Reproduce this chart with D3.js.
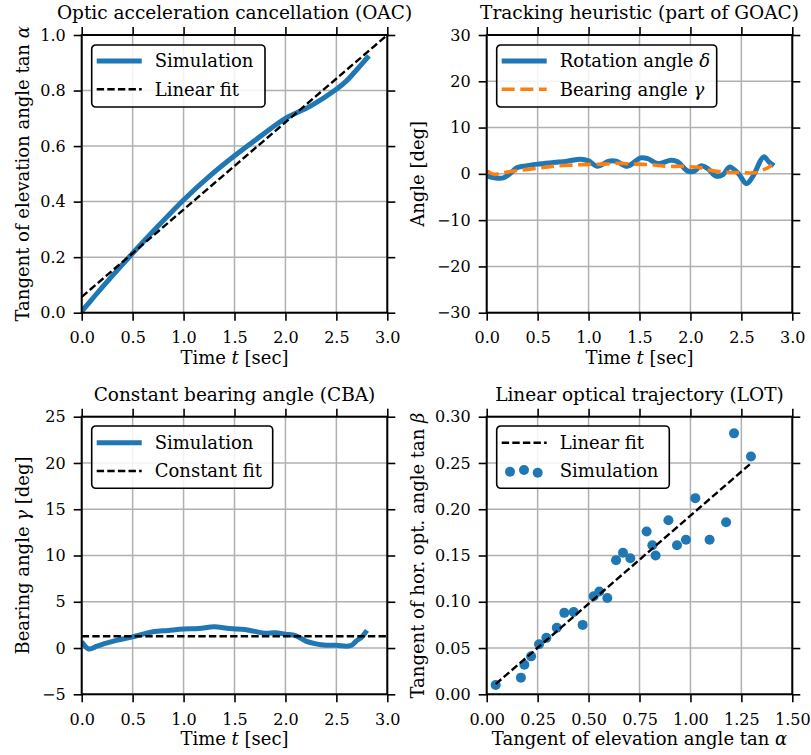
<!DOCTYPE html>
<html><head><meta charset="utf-8">
<script src="https://cdn.jsdelivr.net/npm/d3@7"></script>
<style>body{margin:0;background:#fff} text{font-family:"DejaVu Serif",serif;fill:#000}</style>
</head><body><svg id="c" width="811" height="755"></svg>
<script>
// ---------- data ----------
const timeTicks = [0, 0.5, 1.0, 1.5, 2.0, 2.5, 3.0];
const oacTicks = [0, 0.2, 0.4, 0.6, 0.8, 1.0];
const angleTicks = [-30, -20, -10, 0, 10, 20, 30];
const cbaTicks = [-5, 0, 5, 10, 15, 20, 25];
const lotXTicks = [0, 0.25, 0.5, 0.75, 1.0, 1.25, 1.5];
const lotYTicks = [0, 0.05, 0.10, 0.15, 0.20, 0.25, 0.30];

// OAC simulation (tan alpha vs time)
const oacT = [0, 0.1, 0.25, 0.5, 0.75, 1.0, 1.25, 1.5, 1.75, 2.0, 2.25, 2.5, 2.6, 2.7, 2.82];
const oacV = [0.005, 0.048, 0.112, 0.214, 0.312, 0.406, 0.49, 0.565, 0.634, 0.70, 0.745, 0.805, 0.835, 0.875, 0.925];
const oacFitT = [0, 3.0];
const oacFitV = [0.057, 1.0];

// Rotation angle delta (deg)
const deltaT = [0, 0.066, 0.164, 0.23, 0.296, 0.36, 0.5, 0.658, 0.79, 0.92, 1.0, 1.085, 1.2, 1.27, 1.38, 1.51, 1.58, 1.68, 1.81, 1.875, 1.97, 2.04, 2.1, 2.17, 2.25, 2.32, 2.385, 2.47, 2.55, 2.61, 2.72, 2.77, 2.82];
const deltaV = [-0.43, -0.8, -0.87, 0.07, 1.3, 1.65, 2.1, 2.45, 2.73, 3.17, 2.8, 1.65, 2.73, 2.73, 1.65, 3.45, 3.3, 2.23, 2.95, 2.6, 0.65, 0.58, 1.73, 1.15, -0.5, -0.14, 1.5, 0.07, -2.1, -0.65, 3.67, 2.6, 1.73];

// Bearing angle gamma (deg)
const gammaT = [0, 0.07, 0.15, 0.25, 0.35, 0.5, 0.6, 0.7, 0.85, 1.0, 1.15, 1.3, 1.45, 1.6, 1.7, 1.8, 1.9, 2.0, 2.1, 2.2, 2.3, 2.4, 2.5, 2.6, 2.65, 2.7, 2.75, 2.8];
const gammaV = [0.7, -0.1, 0.2, 0.55, 0.85, 1.2, 1.5, 1.75, 1.9, 2.05, 2.1, 2.3, 2.1, 2.0, 1.8, 1.6, 1.65, 1.5, 1.35, 0.75, 0.45, 0.3, 0.3, 0.2, 0.3, 0.8, 1.2, 1.9];
const gammaFit = 1.27;

// LOT scatter
const lotX = [0.044, 0.168, 0.185, 0.218, 0.257, 0.293, 0.344, 0.381, 0.427, 0.471, 0.525, 0.553, 0.592, 0.635, 0.669, 0.705, 0.785, 0.813, 0.829, 0.892, 0.934, 0.978, 1.024, 1.094, 1.175, 1.214, 1.297];
const lotY = [0.010, 0.018, 0.032, 0.041, 0.054, 0.061, 0.072, 0.088, 0.089, 0.075, 0.106, 0.111, 0.104, 0.145, 0.153, 0.147, 0.176, 0.161, 0.150, 0.188, 0.161, 0.167, 0.212, 0.167, 0.186, 0.282, 0.257];
const lotFitX = [0.044, 1.297];
const lotFitY = [0.011, 0.2496];

// ---------- drawing ----------
const BLUE = "#1f77b4", ORANGE = "#ff7f0e";
const FS = 18, TFS = 16;
const svg = d3.select("#c");
let clipId = 0;

function makePanel(o) {
  const w = o.x1 - o.x0, h = o.y1 - o.y0;
  const g = svg.append("g").attr("transform", `translate(${o.x0},${o.y0})`);
  const x = d3.scaleLinear().domain(o.xDomain).range([0, w]);
  const y = d3.scaleLinear().domain(o.yDomain).range([h, 0]);
  // grid
  g.append("g").selectAll("line").data(o.xTicks).join("line")
    .attr("x1", d => x(d)).attr("x2", d => x(d)).attr("y1", 0).attr("y2", h)
    .attr("stroke", "#b0b0b0").attr("stroke-width", 1.5);
  g.append("g").selectAll("line").data(o.yTicks).join("line")
    .attr("y1", d => y(d)).attr("y2", d => y(d)).attr("x1", 0).attr("x2", w)
    .attr("stroke", "#b0b0b0").attr("stroke-width", 1.5);
  const id = "clip" + (clipId++);
  g.append("clipPath").attr("id", id).append("rect").attr("width", w).attr("height", h);
  const plot = g.append("g").attr("clip-path", `url(#${id})`);
  // axes
  const fmtX = d3.format(o.xFmt), fmtY = d3.format(o.yFmt);
  const styleAxis = sel => {
    sel.select(".domain").remove();
    sel.selectAll(".tick line").attr("stroke", "#000").attr("stroke-width", 1.6);
    sel.selectAll("text").style("font-size", TFS + "px").style("font-family", '"DejaVu Serif",serif');
  };
  g.append("g").attr("transform", `translate(0,${h})`)
    .call(d3.axisBottom(x).tickValues(o.xTicks).tickFormat(fmtX).tickSize(8).tickPadding(11)).call(styleAxis);
  g.append("g").call(d3.axisTop(x).tickValues(o.xTicks).tickFormat("").tickSize(8)).call(styleAxis);
  g.append("g")
    .call(d3.axisLeft(y).tickValues(o.yTicks).tickFormat(fmtY).tickSize(8).tickPadding(8)).call(styleAxis);
  g.append("g").attr("transform", `translate(${w},0)`)
    .call(d3.axisRight(y).tickValues(o.yTicks).tickFormat("").tickSize(8)).call(styleAxis);
  // title & labels
  svg.append("text").attr("x", (o.x0 + o.x1) / 2).attr("y", o.y0 - 16)
    .attr("text-anchor", "middle").style("font-size", (FS + 0.5) + "px").text(o.title);
  const xl = svg.append("text").attr("x", (o.x0 + o.x1) / 2).attr("y", o.y1 + 51)
    .attr("text-anchor", "middle").style("font-size", FS + "px");
  o.xLabel.forEach(p => xl.append("tspan").attr("font-style", p[1] ? "italic" : null).text(p[0]));
  const yl = svg.append("text").attr("transform", `translate(${o.yLabelX},${(o.y0 + o.y1) / 2}) rotate(-90)`)
    .attr("text-anchor", "middle").style("font-size", FS + "px");
  o.yLabel.forEach(p => yl.append("tspan").attr("font-style", p[1] ? "italic" : null).text(p[0]));
  return {g, plot, x, y, w, h, frame: () => {
    g.append("rect").attr("width", w).attr("height", h).attr("fill", "none")
      .attr("stroke", "#000").attr("stroke-width", 2);
  }};
}

function legend(p, o) {
  const lg = p.g.append("g").attr("transform", `translate(${o.x},${o.y})`);
  lg.append("rect").attr("width", o.w).attr("height", o.h).attr("rx", 4)
    .attr("fill", "#fff").attr("fill-opacity", 0.85).attr("stroke", "#000").attr("stroke-width", 1.6);
  o.items.forEach((it, i) => {
    const cy = o.rows[i];
    if (it.type === "line") {
      lg.append("line").attr("x1", 5).attr("x2", 50).attr("y1", cy).attr("y2", cy)
        .attr("stroke", it.color).attr("stroke-width", it.sw).attr("stroke-dasharray", it.dash || null);
    } else {
      lg.selectAll(null).data(it.dots).join("circle")
        .attr("cx", d => d[0]).attr("cy", d => cy + d[1]).attr("r", 5).attr("fill", it.color);
    }
    const t = lg.append("text").attr("x", 63).attr("y", cy).attr("dy", "0.36em").style("font-size", FS + "px");
    it.label.forEach(q => t.append("tspan").attr("font-style", q[1] ? "italic" : null).text(q[0]));
  });
}

const line = (xs, ys, p) => d3.line().x((d, i) => p.x(xs[i])).y((d, i) => p.y(ys[i])).curve(d3.curveCatmullRom)(xs);

// Panel 1: OAC
const p1 = makePanel({x0: 81.7, x1: 387.3, y0: 35, y1: 312.7, xDomain: [0, 3], yDomain: [0, 1],
  xTicks: timeTicks, yTicks: oacTicks, xFmt: ".1f", yFmt: ".1f",
  title: "Optic acceleration cancellation (OAC)",
  xLabel: [["Time "], ["t", 1], [" [sec]"]], yLabel: [["Tangent of elevation angle tan "], ["α", 1]], yLabelX: 28.5});
p1.plot.append("path").attr("d", line(oacT, oacV, p1)).attr("fill", "none").attr("stroke", BLUE).attr("stroke-width", 5);
p1.plot.append("path").attr("d", line(oacFitT, oacFitV, p1)).attr("fill", "none").attr("stroke", "#000")
  .attr("stroke-width", 2.4).attr("stroke-dasharray", "7.4,3.2");
p1.frame();
legend(p1, {x: 10, y: 10, w: 173.3, h: 62, rows: [16, 44.3], items: [
  {type: "line", color: BLUE, sw: 5, label: [["Simulation"]]},
  {type: "line", color: "#000", sw: 2.4, dash: "7.4,3.2", label: [["Linear fit"]]}]});

// Panel 2: tracking
const p2 = makePanel({x0: 486.7, x1: 792.3, y0: 35, y1: 312.7, xDomain: [0, 3], yDomain: [-30, 30],
  xTicks: timeTicks, yTicks: angleTicks, xFmt: ".1f", yFmt: "d",
  title: "Tracking heuristic (part of GOAC)",
  xLabel: [["Time "], ["t", 1], [" [sec]"]], yLabel: [["Angle [deg]"]], yLabelX: 423.5});
p2.plot.append("path").attr("d", line(deltaT, deltaV, p2)).attr("fill", "none").attr("stroke", BLUE).attr("stroke-width", 5);
p2.plot.append("path").attr("d", line(gammaT, gammaV, p2)).attr("fill", "none").attr("stroke", ORANGE)
  .attr("stroke-width", 3.6).attr("stroke-dasharray", "13,5.6");
p2.frame();
legend(p2, {x: 10, y: 10, w: 220, h: 62, rows: [16, 44.3], items: [
  {type: "line", color: BLUE, sw: 5, label: [["Rotation angle "], ["δ", 1]]},
  {type: "line", color: ORANGE, sw: 3.6, dash: "13,5.6", label: [["Bearing angle "], ["γ", 1]]}]});

// Panel 3: CBA
const p3 = makePanel({x0: 81.7, x1: 387.3, y0: 416.7, y1: 694.3, xDomain: [0, 3], yDomain: [-5, 25],
  xTicks: timeTicks, yTicks: cbaTicks, xFmt: ".1f", yFmt: "d",
  title: "Constant bearing angle (CBA)",
  xLabel: [["Time "], ["t", 1], [" [sec]"]], yLabel: [["Bearing angle "], ["γ", 1], [" [deg]"]], yLabelX: 28.5});
p3.plot.append("path").attr("d", line(gammaT, gammaV, p3)).attr("fill", "none").attr("stroke", BLUE).attr("stroke-width", 5);
p3.plot.append("path").attr("d", line([0, 3], [gammaFit, gammaFit], p3)).attr("fill", "none").attr("stroke", "#000")
  .attr("stroke-width", 2.4).attr("stroke-dasharray", "7.4,3.2");
p3.frame();
legend(p3, {x: 10, y: 9.3, w: 181, h: 62.3, rows: [16.7, 45], items: [
  {type: "line", color: BLUE, sw: 5, label: [["Simulation"]]},
  {type: "line", color: "#000", sw: 2.4, dash: "7.4,3.2", label: [["Constant fit"]]}]});

// Panel 4: LOT
const p4 = makePanel({x0: 486.7, x1: 792.3, y0: 416.7, y1: 694.3, xDomain: [0, 1.5], yDomain: [0, 0.3],
  xTicks: lotXTicks, yTicks: lotYTicks, xFmt: ".2f", yFmt: ".2f",
  title: "Linear optical trajectory (LOT)",
  xLabel: [["Tangent of elevation angle tan "], ["α", 1]], yLabel: [["Tangent of hor. opt. angle tan "], ["β", 1]], yLabelX: 423.5});
p4.plot.selectAll(null).data(lotX).join("circle")
  .attr("cx", d => p4.x(d)).attr("cy", (d, i) => p4.y(lotY[i])).attr("r", 5).attr("fill", BLUE);
p4.plot.append("path").attr("d", line(lotFitX, lotFitY, p4)).attr("fill", "none").attr("stroke", "#000")
  .attr("stroke-width", 2.4).attr("stroke-dasharray", "7.4,3.2");
p4.frame();
legend(p4, {x: 10, y: 9.3, w: 172.6, h: 62.3, rows: [16.7, 45], items: [
  {type: "line", color: "#000", sw: 2.4, dash: "7.4,3.2", label: [["Linear fit"]]},
  {type: "dots", color: BLUE, dots: [[13.3, 0.7], [27.3, -1], [41, 1.7]], label: [["Simulation"]]}]});
</script></body></html>
